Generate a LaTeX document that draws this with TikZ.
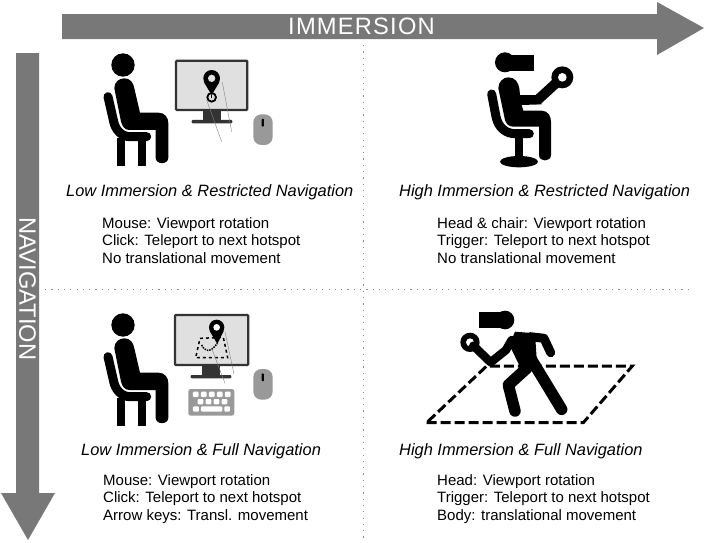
\documentclass[tikz,border=0pt]{standalone}
\usepackage{fontspec}
\setmainfont{Liberation Sans}
\definecolor{arrowgray}{gray}{.47}
\definecolor{screengray}{gray}{.88}
\definecolor{devicegray}{gray}{.6}
\definecolor{framegray}{gray}{.2}
\tikzset{
  icon/.style={shift={#1},x=.3333pt,y=-.3333pt},
  caption/.style={anchor=west,inner sep=0pt,font=\fontsize{16.4}{18}\selectfont\itshape},
  details/.style={anchor=north west,inner sep=0pt,align=left,font=\fontsize{15}{17.8}\selectfont},
  axislabel/.style={inner sep=0pt,text=white,font=\fontsize{23.7}{26}\selectfont},
  separator/.style={dash pattern=on 1.2pt off 5.1pt,black!45,line width=1pt},
  pole/.style={line width=#1,line cap=round,line join=round},
}
% seated figure, drawn in zoomed units
\newcommand{\seatedbody}{
  \fill (99,60) circle (35);
  \fill (73,130) .. controls (73,110) and (88,100) .. (103,100) .. controls (120,100) and (130,112) .. (133,130)
    -- (150,203) -- (205,203) .. controls (225,203) and (235,218) .. (235,235) -- (235,338)
    .. controls (235,360) and (197,360) .. (197,338) -- (197,255) -- (118,255)
    .. controls (105,255) and (97,245) .. (93,230) -- cycle;
  \draw [pole=9pt] (54,155) -- (70,225) .. controls (75,255) and (95,275) .. (120,275) -- (170,275);
  \fill (82,280) rectangle (104,362);
  \fill (145,280) rectangle (168,362);
}
\newcommand{\screenframe}[4]{
  \fill [framegray] (#1+82,#4) rectangle (#1+134,#4+33);
  \fill [framegray,rounded corners=1pt] (#1+47,#4+30) rectangle (#1+169,#4+40);
  \draw [framegray,fill=screengray,line width=2.3pt,rounded corners=1pt] (#1,#2) rectangle (#3,#4);
}
\newcommand{\mousedevice}[1]{
  \fill [devicegray,rounded corners=8pt] (490,#1) rectangle (548,#1+92);
  \fill [rounded corners=1pt] (515,#1+13) rectangle (522,#1+37);
}
\begin{document}
\begin{tikzpicture}[x=1pt,y=-1pt]
\useasboundingbox (0,0) rectangle (706,542);
% axes
\draw [separator] (363,45) -- (363,542);
\draw [separator] (45,289) -- (692,289);
\fill [arrowgray] (62,14) -- (657,14) -- (657,2) -- (704,28) -- (657,55) -- (657,39) -- (62,39) -- cycle;
\fill [arrowgray] (16,53) -- (39,53) -- (39,493) -- (55,493) -- (28,540) -- (1,493) -- (16,493) -- cycle;
\node [axislabel] (immersion) at (361.5,26.7) {I\kern1.2pt M\kern1.2pt M\kern1.2pt E\kern1.2pt R\kern1.2pt S\kern1.2pt I\kern1.2pt O\kern1.2pt N};
\node [axislabel,rotate=-90] (navigation) at (27.5,289) {NAVIGATION};
% top left
\begin{scope}[icon={(90,45)}]
  \seatedbody
  \screenframe{258}{47}{472}{195}
  \fill (365,100) circle (25);
  \fill (342,112) -- (388,112) -- (365,150) -- cycle;
  \fill [screengray] (365,100) circle (11);
  \draw [line width=1.8pt] (365,157) circle (13);
  \draw [line width=.8pt] (365,150) -- (365,158);
  \draw [gray,line width=.4pt] (350,165) -- (395,290);
  \draw [gray,line width=.4pt] (397,112) -- (425,260);
  \mousedevice{208}
\end{scope}
% top right
\begin{scope}[icon={(470,45)}]
  \fill (105,52) circle (30);
  \fill (105,30) rectangle (192,78);
  \fill (85,130) .. controls (85,110) and (100,97) .. (115,97) .. controls (135,97) and (145,112) .. (148,130)
    -- (150,150) -- (205,150) -- (215,178) -- (155,180) -- (160,197) -- (215,197)
    .. controls (235,197) and (243,215) .. (243,230) -- (243,330)
    .. controls (243,352) and (207,352) .. (207,330) -- (207,245) -- (130,245)
    .. controls (115,245) and (108,235) .. (105,225) -- cycle;
  \draw [pole=10pt] (205,163) -- (277,97);
  \fill (277,97) circle (33);
  \fill [white] (277,97) circle (13);
  \draw [pole=9pt] (65,147) -- (78,215) .. controls (85,250) and (110,266) .. (135,266) -- (178,266);
  \fill (135,275) rectangle (160,340);
  \fill (147,350) ellipse [x radius=57,y radius=17];
\end{scope}
% bottom left
\begin{scope}[icon={(90,305)}]
  \seatedbody
  \screenframe{255}{30}{475}{180}
  \draw [line width=1.5pt,dashed] (330,100) -- (400,97) -- (413,158) -- (317,158) -- cycle;
  \draw [line width=1.5pt,densely dotted] (335,120) .. controls (345,140) and (360,145) .. (382,115);
  \fill (380,67) circle (23);
  \fill (359,78) -- (401,78) -- (382,117) -- cycle;
  \fill [white] (380,67) circle (10);
  \draw [gray,line width=.4pt] (365,130) -- (405,235);
  \draw [gray,line width=.4pt] (405,80) -- (432,208);
  \mousedevice{192}
  \fill [devicegray,rounded corners=2.5pt] (295,252) rectangle (433,332);
  \foreach \x in {309,333,357,381,405}
    \fill [white,rounded corners=1pt] (\x,260) rectangle +(17,16);
  \foreach \x in {323,347,371,395}
    \fill [white,rounded corners=1pt] (\x,282) rectangle +(17,16);
  \fill [white,rounded corners=1pt] (309,304) rectangle (327,320);
  \fill [white,rounded corners=1pt] (333,304) rectangle (397,320);
  \fill [white,rounded corners=1pt] (403,304) rectangle (420,320);
\end{scope}
% bottom right
\begin{scope}[icon={(420,305)}]
  \draw [line width=3pt,dash pattern=on 10pt off 4pt] (20,353) -- (490,353) -- (637,183) -- (200,183) -- cycle;
  \fill (255,45) circle (28);
  \fill (176,22) rectangle (255,68);
  \fill (150,112) circle (29);
  \fill [white] (150,112) circle (12);
  \draw [pole=8.5pt] (160,122) -- (212,172) -- (258,135) -- (275,105);
  \fill (285,80) -- (345,85) -- (350,160) -- (305,195) -- (268,120) -- cycle;
  \draw [pole=9pt] (330,95) -- (372,100) -- (392,143);
  \draw [pole=11.5pt] (320,190) -- (265,240) -- (285,318);
  \draw [pole=11.5pt] (320,140) -- (425,313);
\end{scope}
% captions
\node [caption] (lowrestricted) at (66,192.5) {Low Immersion \& Restricted Navigation};
\node [caption] (highrestricted) at (399,192.5) {High Immersion \& Restricted Navigation};
\node [caption] (lowfull) at (81,451.5) {Low Immersion \& Full Navigation};
\node [caption] (highfull) at (399,451.5) {High Immersion \& Full Navigation};
\node [details] (lowrestrictedtext) at (102,217) {Mouse: Viewport rotation\\Click: Teleport to next hotspot\\No translational movement};
\node [details] (highrestrictedtext) at (437,217) {Head \& chair: Viewport rotation\\Trigger: Teleport to next hotspot\\No translational movement};
\node [details] (lowfulltext) at (103,474) {Mouse: Viewport rotation\\Click: Teleport to next hotspot\\Arrow keys: Transl. movement};
\node [details] (highfulltext) at (437,474) {Head: Viewport rotation\\Trigger: Teleport to next hotspot\\Body: translational movement};
\end{tikzpicture}
\end{document}
